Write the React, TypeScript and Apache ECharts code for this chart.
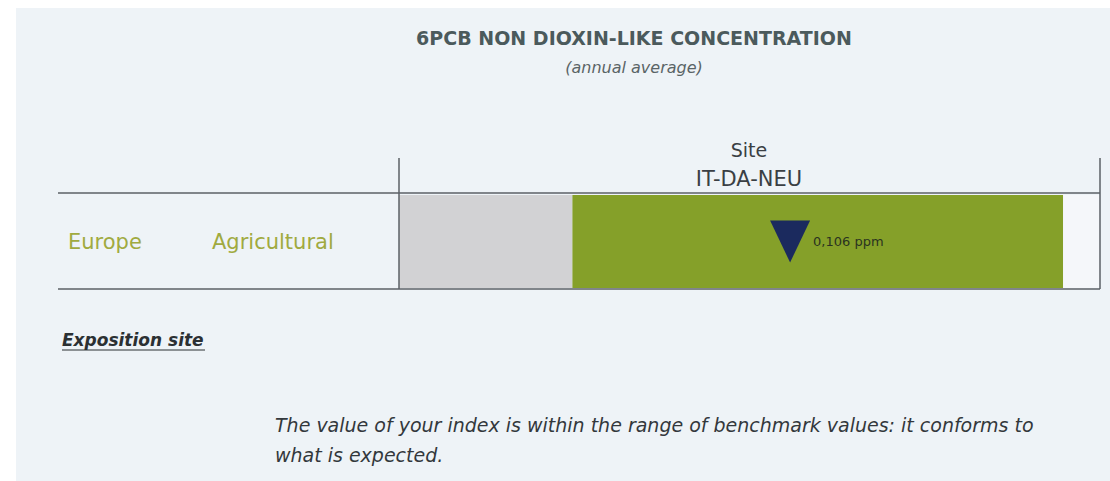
import React, { useEffect, useRef } from "react";
import * as echarts from "echarts";

// ---- data ----
const titleText = "6PCB NON DIOXIN-LIKE CONCENTRATION";
const subtitleText = "(annual average)";
const headerLabel = "Site";
const siteCodes = ["IT-DA-NEU"];
const regions = ["Europe"];
const siteTypes = ["Agricultural"];
const benchmarkLow = [0.047];
const benchmarkHigh = [0.18];
const axisMax = 0.19;
const measuredValues = [0.106];
const unit = "ppm";
const legendTitle = "Exposition site";
const verdictLines = [
  "The value of your index is within the range of benchmark values: it conforms to",
  "what is expected.",
];

const FONT = "'DejaVu Sans', 'Noto Sans', sans-serif";
const LINE = "#5b6066";

export default function App() {
  const ref = useRef<HTMLDivElement>(null);

  useEffect(() => {
    if (!ref.current) return;
    const chart = echarts.init(ref.current, undefined, { renderer: "svg" });
    const cats = regions.map((r, i) => `${r}|${siteTypes[i]}`);
    const lowPart = benchmarkLow.map((v) => v);
    const rangePart = benchmarkHigh.map((v, i) => v - benchmarkLow[i]);
    const restPart = benchmarkHigh.map((v) => axisMax - v);

    const option: any = {
      animation: false,
      backgroundColor: "transparent",
      grid: { left: 399, right: 10, top: 195, bottom: 193, containLabel: false },
      xAxis: {
        type: "value",
        min: 0,
        max: axisMax,
        show: false,
      },
      yAxis: {
        type: "category",
        data: cats,
        axisLine: { show: false },
        axisTick: { show: false },
        splitLine: { show: false },
        axisLabel: {
          margin: 57,
          align: "right",
          formatter: (v: string) => {
            const [a, b] = v.split("|");
            return `{r|${a}}{t|${b}}`;
          },
          rich: {
            r: { width: 144, align: "left", fontSize: 21, color: "#a0aa40", fontFamily: FONT },
            t: { width: 130, align: "left", fontSize: 21, color: "#a0aa40", fontFamily: FONT },
          },
        },
      },
      series: [
        {
          type: "bar",
          stack: "b",
          data: lowPart,
          barWidth: "100%",
          itemStyle: { color: "#d2d2d4" },
          silent: true,
        },
        {
          type: "bar",
          stack: "b",
          data: rangePart,
          barWidth: "100%",
          itemStyle: { color: "#85a029" },
          silent: true,
        },
        {
          type: "bar",
          stack: "b",
          data: restPart,
          barWidth: "100%",
          itemStyle: { color: "#f5f7fa" },
          silent: true,
        },
        {
          type: "scatter",
          data: measuredValues.map((v, i) => [v, i]),
          symbol: "path://M0,0 L40,0 L20,42 Z",
          symbolSize: [40, 42],
          z: 5,
          itemStyle: { color: "#1b2a5e", opacity: 1 },
          label: {
            show: true,
            position: "right",
            distance: 3,
            formatter: (p: any) => `${String(p.value[0]).replace(".", ",")} ${unit}`,
            fontSize: 13,
            color: "#2a3320",
            fontFamily: FONT,
          },
        },
      ],
      graphic: [
        {
          type: "rect",
          z: -10,
          silent: true,
          shape: { x: 16, y: 8, width: 1094, height: 473 },
          style: { fill: "#eef3f7" },
        },
        {
          type: "text",
          x: 634,
          y: 38,
          style: {
            text: titleText,
            fontSize: 19,
            fontWeight: "bold",
            fill: "#4b5a5c",
            fontFamily: FONT,
            align: "center",
            verticalAlign: "middle",
          },
        },
        {
          type: "text",
          x: 634,
          y: 67,
          style: {
            text: subtitleText,
            fontSize: 16,
            fontStyle: "italic",
            fill: "#5a6466",
            fontFamily: FONT,
            align: "center",
            verticalAlign: "middle",
          },
        },
        {
          type: "text",
          x: 749,
          y: 150,
          style: {
            text: headerLabel,
            fontSize: 19,
            fill: "#3a3f44",
            fontFamily: FONT,
            align: "center",
            verticalAlign: "middle",
          },
        },
        {
          type: "text",
          x: 749,
          y: 179,
          style: {
            text: siteCodes[0],
            fontSize: 21,
            fill: "#3a3f44",
            fontFamily: FONT,
            align: "center",
            verticalAlign: "middle",
          },
        },
        { type: "line", z: 10, shape: { x1: 58, y1: 193, x2: 1100, y2: 193 }, style: { stroke: LINE, lineWidth: 1.5 } },
        { type: "line", z: 10, shape: { x1: 58, y1: 289, x2: 1100, y2: 289 }, style: { stroke: LINE, lineWidth: 1.5 } },
        { type: "line", z: 10, shape: { x1: 399, y1: 158, x2: 399, y2: 289 }, style: { stroke: LINE, lineWidth: 1.5 } },
        { type: "line", z: 10, shape: { x1: 1100, y1: 158, x2: 1100, y2: 289 }, style: { stroke: LINE, lineWidth: 1.5 } },
        {
          type: "text",
          x: 62,
          y: 340,
          style: {
            text: legendTitle,
            fontSize: 17,
            fontWeight: "bold",
            fontStyle: "italic",
            fill: "#2b3033",
            fontFamily: FONT,
            align: "left",
            verticalAlign: "middle",
          },
        },
        { type: "line", shape: { x1: 62, y1: 350, x2: 205, y2: 350 }, style: { stroke: "#2b3033", lineWidth: 1 } },
        {
          type: "text",
          x: 275,
          y: 425,
          style: {
            text: verdictLines[0],
            fontSize: 19,
            fontStyle: "italic",
            fill: "#33383c",
            fontFamily: FONT,
            align: "left",
            verticalAlign: "middle",
          },
        },
        {
          type: "text",
          x: 275,
          y: 455,
          style: {
            text: verdictLines[1],
            fontSize: 19,
            fontStyle: "italic",
            fill: "#33383c",
            fontFamily: FONT,
            align: "left",
            verticalAlign: "middle",
          },
        },
      ],
    };
    chart.setOption(option);
    return () => chart.dispose();
  }, []);

  return (
    <div
      ref={ref}
      style={{ position: "absolute", left: 0, top: 0, width: 1110, height: 481 }}
    />
  );
}
